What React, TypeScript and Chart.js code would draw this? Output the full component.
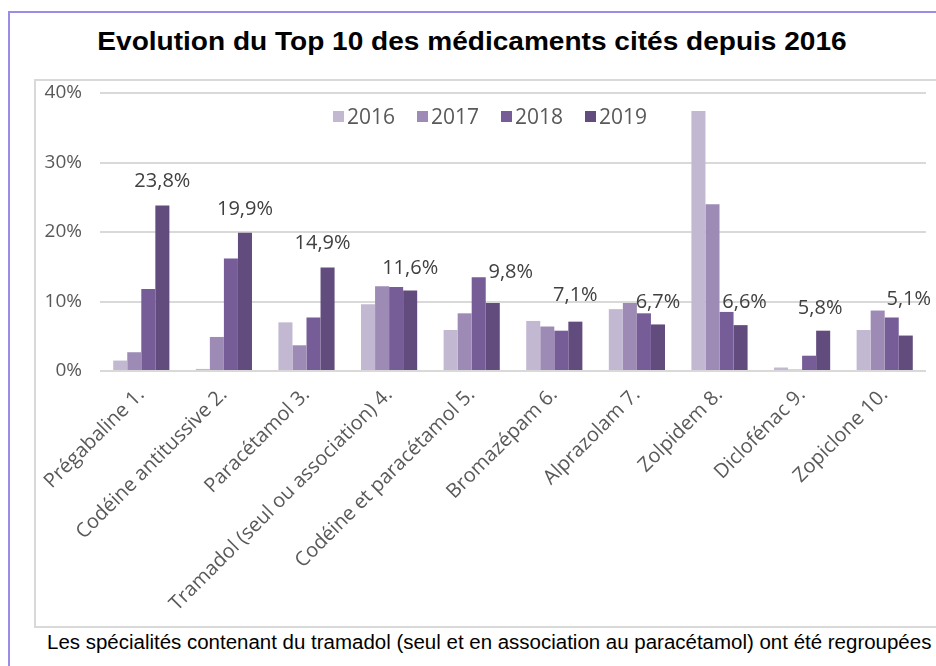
import React, { useEffect, useRef } from "react";
import { Chart, registerables } from "chart.js";

Chart.register(...registerables);

const categories = [
  "Prégabaline 1.",
  "Codéine antitussive 2.",
  "Paracétamol 3.",
  "Tramadol (seul ou association) 4.",
  "Codéine et paracétamol 5.",
  "Bromazépam 6.",
  "Alprazolam 7.",
  "Zolpidem 8.",
  "Diclofénac 9.",
  "Zopiclone 10.",
];

const years = ["2016", "2017", "2018", "2019"];

const values2016 = [1.5, 0.3, 7.0, 9.6, 5.9, 7.2, 8.9, 37.4, 0.5, 5.9];
const values2017 = [2.7, 4.9, 3.7, 12.2, 8.3, 6.4, 9.8, 24.0, 0.2, 8.7];
const values2018 = [11.8, 16.2, 7.7, 12.1, 13.5, 5.8, 8.3, 8.5, 2.2, 7.7];
const values2019 = [23.8, 19.9, 14.9, 11.6, 9.8, 7.1, 6.7, 6.6, 5.8, 5.1];

const yTicks = [0, 10, 20, 30, 40];

const colors = ["#C2B8D2", "#9D8BB5", "#775D98", "#624C7D"];

// manual label nudges (px) as in the original, relative to default placement
const labelDx = [0, 0, -5, 0, 18, 0, 0, 4, -3, 3];
const labelDy = [-2, -1, -2, 0, -9, -4, 0, -1, 0, -14];

const TICK_FONT = "'Open Sans', sans-serif";

export default function App() {
  const ref = useRef<HTMLCanvasElement>(null);

  useEffect(() => {
    const canvas = ref.current;
    if (!canvas) return;

    const labelsPlugin = {
      id: "valueLabels",
      afterDatasetsDraw(chart: any) {
        const ctx = chart.ctx;
        const meta = chart.getDatasetMeta(3);
        ctx.save();
        ctx.font = `20px ${TICK_FONT}`;
        ctx.fillStyle = "#404040";
        ctx.textAlign = "center";
        ctx.textBaseline = "middle";
        meta.data.forEach((bar: any, i: number) => {
          const v = values2019[i];
          const txt = v.toFixed(1).replace(".", ",") + "%";
          ctx.fillText(txt, bar.x + labelDx[i], bar.y - 22 + labelDy[i]);
        });
        ctx.restore();
      },
    };

    const legendPlugin = {
      id: "customLegend",
      afterDraw(chart: any) {
        const ctx = chart.ctx;
        ctx.save();
        ctx.font = `21px ${TICK_FONT}`;
        ctx.textBaseline = "middle";
        ctx.textAlign = "left";
        const startX = 297;
        const y = 36;
        years.forEach((yr, i) => {
          const x = startX + i * 84;
          ctx.fillStyle = colors[i];
          ctx.fillRect(x, y - 6, 11, 11);
          ctx.fillStyle = "#595959";
          ctx.fillText(yr, x + 14, y + 1);
        });
        ctx.restore();
      },
    };

    const datasets = [values2016, values2017, values2018, values2019].map(
      (vals, i) => ({
        label: years[i],
        data: vals,
        backgroundColor: colors[i],
        borderWidth: 0,
        categoryPercentage: 0.68,
        barPercentage: 1.0,
      })
    );

    const chart = new Chart(canvas, {
      type: "bar",
      data: { labels: categories, datasets },
      options: {
        responsive: false,
        animation: false,
        maintainAspectRatio: false,
        layout: { padding: { top: 12, right: 10, left: 0, bottom: 0 } },
        plugins: {
          legend: { display: false },
          tooltip: { enabled: false },
          title: { display: false },
        },
        scales: {
          x: {
            grid: { display: false },
            border: { display: false },
            ticks: {
              minRotation: 45,
              maxRotation: 45,
              autoSkip: false,
              color: "#595959",
              font: { family: TICK_FONT, size: 20 },
              padding: 4,
            },
            afterFit(scale: any) {
              scale.height = 256;
            },
          },
          y: {
            min: 0,
            max: 40,
            afterBuildTicks(scale: any) {
              scale.ticks = yTicks.map((v) => ({ value: v }));
            },
            grid: {
              color: "#D9D9D9",
              lineWidth: 2,
              drawTicks: false,
            },
            border: { display: false },
            ticks: {
              color: "#595959",
              font: { family: TICK_FONT, size: 19 },
              padding: 18,
              callback: (v: any) => v + "%",
            },
            afterFit(scale: any) {
              scale.width = 64;
              scale.paddingTop = 0;
              scale.paddingBottom = 0;
            },
          },
        },
      },
      plugins: [labelsPlugin, legendPlugin],
    });

    return () => chart.destroy();
  }, []);

  return (
    <div
      style={{
        position: "absolute",
        left: 0,
        top: 0,
        width: 936,
        height: 666,
        overflow: "hidden",
        background: "#fff",
      }}
    >
      <div
        style={{
          position: "absolute",
          left: 8,
          top: 11,
          width: 960,
          height: 700,
          borderLeft: "2px solid #9A8CE8",
          borderTop: "2px solid #9A8CE8",
        }}
      />
      <div
        style={{
          position: "absolute",
          left: 0,
          top: 29,
          width: 944,
          textAlign: "center",
          fontFamily: "'Liberation Sans', Arial, sans-serif",
          fontWeight: "bold",
          fontSize: 25.5,
          lineHeight: "25px",
          color: "#000",
          transform: "scaleX(1.1)",
          transformOrigin: "472px 0",
          whiteSpace: "nowrap",
        }}
      >
        Evolution du Top 10 des médicaments cités depuis 2016
      </div>
      <div
        style={{
          position: "absolute",
          left: 34,
          top: 79,
          width: 940,
          height: 549,
          boxSizing: "border-box",
          border: "2px solid #D9D9D9",
        }}
      />
      <canvas
        ref={ref}
        width={900}
        height={546}
        style={{ position: "absolute", left: 36, top: 81, width: 900, height: 546 }}
      />
      <div
        style={{
          position: "absolute",
          left: 47,
          top: 632,
          whiteSpace: "nowrap",
          fontFamily: "'Liberation Sans', Arial, sans-serif",
          fontSize: 19.5,
          lineHeight: "20px",
          color: "#000",
          transform: "scaleX(1.05)",
          transformOrigin: "0 0",
        }}
      >
        Les spécialités contenant du tramadol (seul et en association au paracétamol) ont été regroupées
      </div>
    </div>
  );
}
